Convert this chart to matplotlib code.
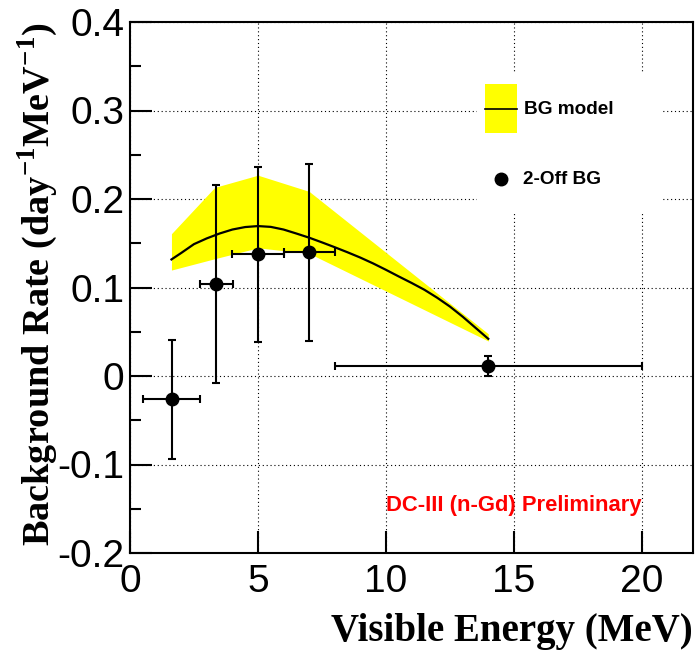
import matplotlib
matplotlib.use("Agg")
import matplotlib.pyplot as plt
from matplotlib.patches import Rectangle
from matplotlib.lines import Line2D

plt.rcParams["font.family"] = ["Liberation Sans", "DejaVu Sans"]
plt.rcParams["axes.unicode_minus"] = False
plt.rcParams["mathtext.fontset"] = "custom"
plt.rcParams["mathtext.rm"] = "Liberation Serif:bold"
plt.rcParams["mathtext.bf"] = "Liberation Serif:bold"

# Measured background (2-Off) points
energy = [1.625, 3.38, 5.0, 7.0, 14.0]
energy_err = [1.125, 0.63, 1.0, 1.0, 6.0]
rate = [-0.0264, 0.104, 0.1374, 0.140, 0.0115]
rate_err = [0.067, 0.112, 0.099, 0.100, 0.011]

# BG model central curve
model_x = [1.62, 2.0, 2.5, 3.0, 3.5, 4.0, 4.5, 5.0, 5.5, 6.0, 6.5, 7.0, 7.5,
           8.0, 8.5, 9.0, 9.5, 10.0, 10.5, 11.0, 11.5, 12.0, 12.5, 13.0,
           13.5, 14.0]
model_y = [0.1317, 0.139, 0.149, 0.1555, 0.161, 0.1655, 0.1683, 0.1694,
           0.1685, 0.1655, 0.161, 0.1563, 0.151, 0.1455, 0.1398, 0.1338,
           0.1272, 0.120, 0.1125, 0.1052, 0.0975, 0.0885, 0.0785, 0.067,
           0.0545, 0.042]

# BG model uncertainty band
band_x = [1.62, 3.31, 5.0, 7.0, 14.0]
band_hi = [0.1608, 0.2131, 0.2269, 0.2086, 0.0477]
band_lo = [0.1197, 0.1325, 0.1448, 0.1385, 0.0395]

x_ticks = [0, 5, 10, 15, 20]
y_ticks = [-0.2, -0.1, 0.0, 0.1, 0.2, 0.3, 0.4]
y_tick_labels = ["-0.2", "-0.1", "0", "0.1", "0.2", "0.3", "0.4"]

W, H = 695, 652
fig = plt.figure(figsize=(W / 100, H / 100), dpi=100)
ax = fig.add_axes([130 / W, 1 - 553 / H, 563 / W, 531 / H])

ax.set_xlim(0, 22)
ax.set_ylim(-0.2, 0.4)
ax.set_axisbelow(True)
ax.grid(True, color="black", linestyle=(0, (1, 2.5)), linewidth=0.8)

ax.fill_between(band_x, band_lo, band_hi, color="#ffff00", linewidth=0, zorder=2)
ax.plot(model_x, model_y, color="black", linewidth=1.6, zorder=3)
ax.errorbar(energy, rate, xerr=energy_err, yerr=rate_err, fmt="o", color="black",
            markersize=9, elinewidth=1.5, capsize=3, capthick=1.5, zorder=4)

# axes frame and ticks
for s in ax.spines.values():
    s.set_linewidth(1.5)
ax.set_xticks(x_ticks)
ax.set_xticklabels([str(t) for t in x_ticks])
ax.set_yticks(y_ticks)
ax.set_yticklabels(y_tick_labels)
ax.set_yticks([-0.15, -0.05, 0.05, 0.15, 0.25, 0.35], minor=True)
ax.tick_params(axis="both", which="major", direction="in", length=16, width=1.5,
               labelsize=28, top=False, right=False)
ax.tick_params(axis="y", which="minor", direction="in", length=8, width=1.5, right=False)
ax.tick_params(axis="x", which="major", pad=8)
ax.tick_params(axis="y", which="major", pad=4)

# axis titles
fig.text(693 / W, 1 - 631 / H, "Visible Energy (MeV)", fontsize=28,
         fontfamily="Liberation Serif", fontweight="bold", ha="right", va="center")
fig.text(38 / W, 1 - 22 / H, r"Background Rate (day$^{\mathbf{-1}}$MeV$^{\mathbf{-1}}$)",
         fontsize=27.5, fontfamily="Liberation Serif", fontweight="bold",
         rotation=90, ha="center", va="top")

# legend
ax.add_patch(Rectangle((477, H - 213), 185, 141, transform=None,
                       facecolor="white", edgecolor="none", zorder=5))
ax.add_patch(Rectangle((485, H - 133), 32, 49, transform=None,
                       facecolor="#ffff00", edgecolor="none", zorder=6))
fig.add_artist(Line2D([485, 517], [H - 108.5, H - 108.5], transform=None,
                      color="black", linewidth=1.2, zorder=7))
fig.add_artist(Line2D([501], [H - 179], transform=None, marker="o", markersize=9,
                      color="black", linestyle="none", zorder=7))
fig.text(524 / W, 1 - 109 / H, "BG model", fontsize=13.7, fontweight="bold",
         va="center", ha="left", zorder=7)
fig.text(523 / W, 1 - 179 / H, "2-Off BG", fontsize=13.7, fontweight="bold",
         va="center", ha="left", zorder=7)

fig.text(514 / W, 1 - 505 / H, "DC-III (n-Gd) Preliminary",
         color="#ff0000", fontsize=15.8, fontweight="bold", ha="center", va="center")

fig.savefig("out.png", dpi=100)
